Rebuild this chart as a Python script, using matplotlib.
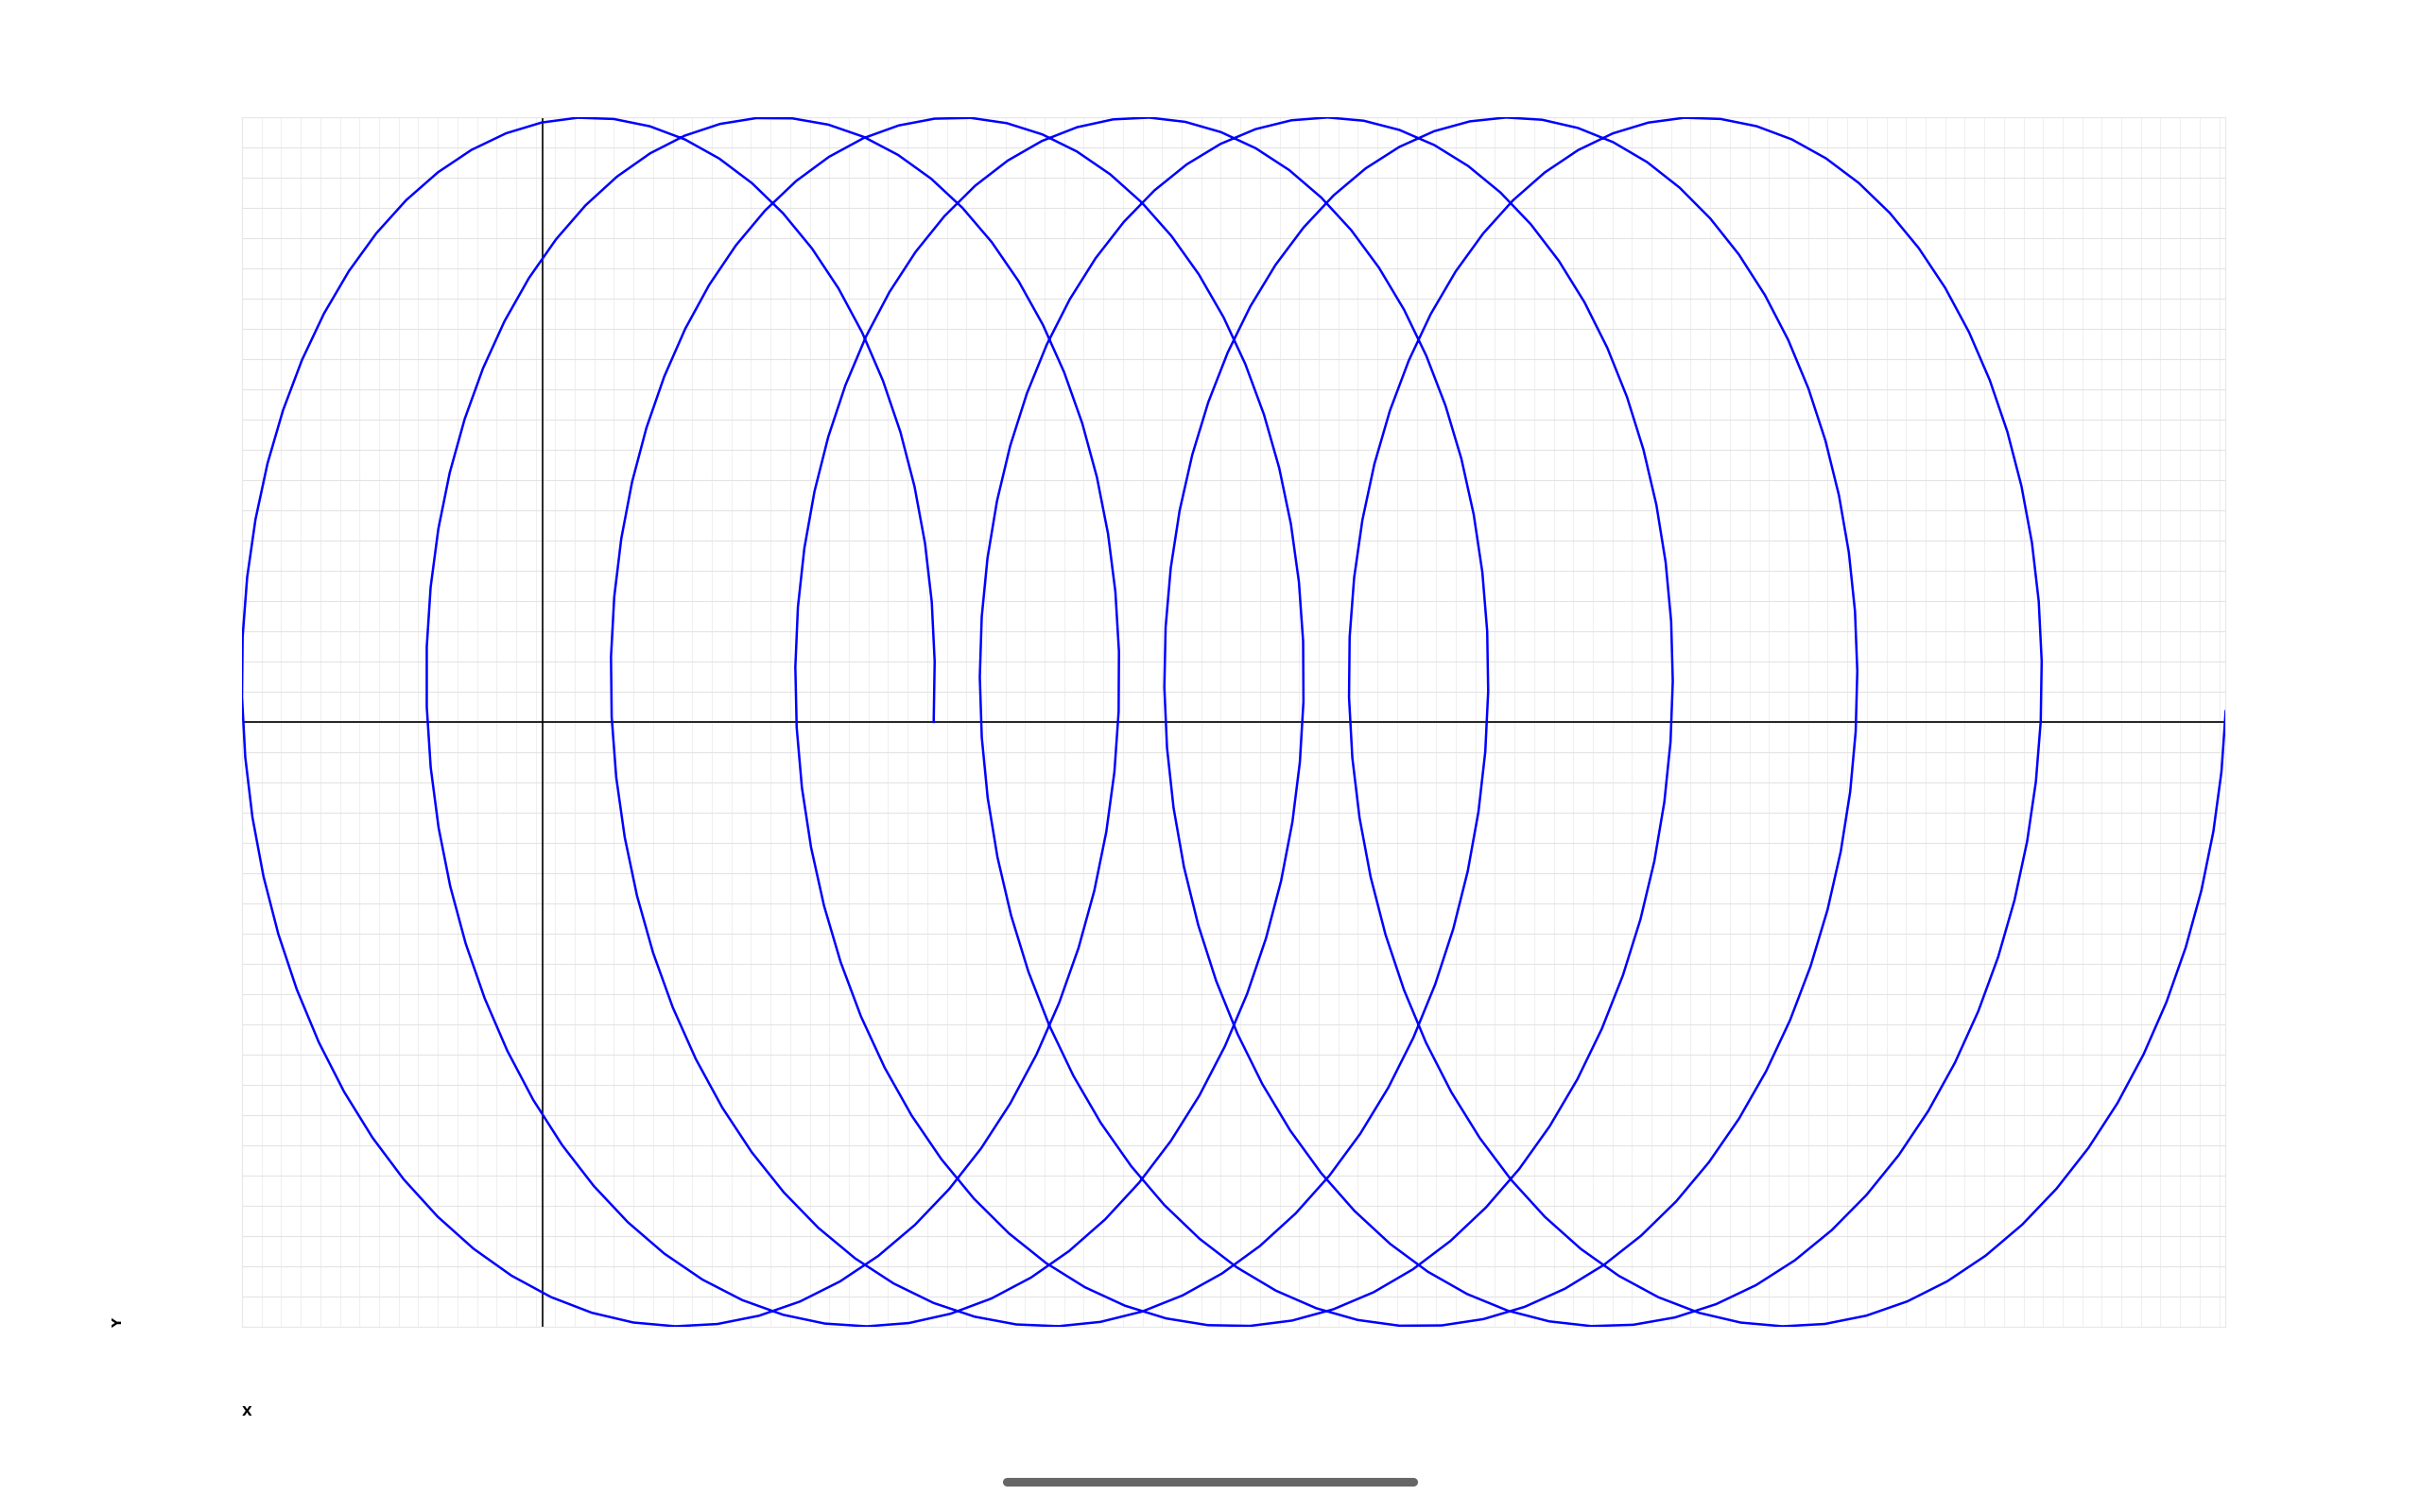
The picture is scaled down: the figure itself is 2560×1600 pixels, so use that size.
import numpy as np
import matplotlib
matplotlib.use("Agg")
import matplotlib.pyplot as plt
from matplotlib.lines import Line2D

# curve parameters (loop radius, x drift per radian, sampling)
radius = 1.0
drift = 0.075
t_step = 0.1
t_end = 44.0

grid_step = 0.05

t = np.arange(0, t_end + t_step / 2, t_step)
xcol = radius * np.cos(t) + drift * t
ycol = radius * np.sin(t)

fig = plt.figure(figsize=(12.8, 8), dpi=200, facecolor='white')
ax = fig.add_axes([0.1, 0.1228, 0.8197, 0.7995])

ax.plot(xcol, ycol, color='#0000ff', lw=0.9, zorder=3)
ax.axhline(0, color='black', lw=0.6, zorder=2)
ax.axvline(0, color='black', lw=0.6, zorder=2)

ax.set_xlim(xcol.min(), xcol.max())
ax.set_ylim(-radius, radius)

# grid lines start from the left edge of the data, not from zero
ax.set_xticks(np.arange(xcol.min(), xcol.max(), grid_step))
ax.set_yticks(np.arange(-radius, radius + grid_step / 2, grid_step))
ax.tick_params(length=0, labelbottom=False, labelleft=False)
ax.grid(axis='x', color='#f0f0f0', lw=0.4)
ax.grid(axis='y', color='#e4e4e4', lw=0.4)
ax.set_axisbelow(True)
for s in ax.spines.values():
    s.set_color('#e8e8e8')
    s.set_linewidth(0.4)

fig.text(0.049, 0.125, "Y", rotation=90, fontsize=5, fontweight='bold',
         ha='center', va='center')
fig.text(0.1, 0.066, "X", fontsize=5, fontweight='bold', ha='left', va='center')

# scroll bar at the bottom
fig.add_artist(Line2D([0.4160, 0.5840], [0.0200, 0.0200], transform=fig.transFigure,
                      color='#666666', lw=3.3, solid_capstyle='round'))

fig.savefig('out.png', dpi=200, facecolor='white')
